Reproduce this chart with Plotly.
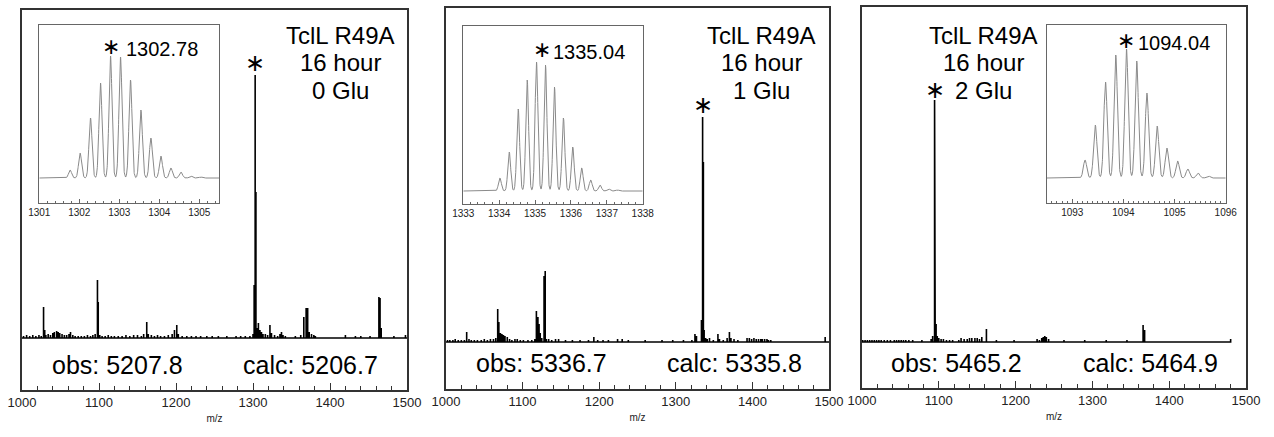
import numpy as np
import plotly.graph_objects as go

W, H = 1274, 437

# ---------------- data ----------------
# Panel 1 : 0 Glu  (stick spectrum, m/z and relative intensity)
p1_mz = [1002, 1006, 1010, 1014, 1018, 1022, 1025, 1028, 1029.5, 1031, 1034, 1037, 1040, 1042, 1045, 1047,
         1049, 1052, 1055, 1058, 1061, 1063, 1066, 1069, 1073, 1077, 1081, 1085, 1089, 1092, 1095, 1098,
         1099, 1101, 1104, 1108, 1112, 1116, 1120, 1125, 1130, 1135, 1140, 1145, 1150, 1155, 1158, 1162,
         1164, 1168, 1172, 1176, 1180, 1185, 1190, 1195, 1198, 1201, 1203, 1208, 1214, 1220, 1226, 1232,
         1240, 1247, 1255, 1266, 1278, 1284, 1290, 1296, 1300, 1301.5, 1302.8, 1303.8, 1305, 1307, 1309,
         1311, 1313, 1316, 1319, 1322, 1324, 1328, 1332, 1335, 1337, 1339, 1342, 1355, 1362, 1366, 1369,
         1371, 1373, 1376, 1379, 1381, 1420, 1433, 1440, 1452, 1463.5, 1465, 1466.5, 1483, 1498]
p1_int = [2, 3, 2, 3, 2, 3, 2, 31, 8, 3, 4, 3, 5, 6, 7, 6,
          5, 4, 3, 3, 4, 6, 3, 2, 2, 2, 2, 3, 2, 3, 4, 58,
          36, 3, 2, 2, 3, 2, 2, 2, 2, 3, 2, 3, 3, 2, 4, 16,
          4, 3, 2, 3, 2, 2, 3, 4, 8, 13, 4, 2, 2, 2, 2, 2,
          2, 2, 2, 2, 2, 2, 2, 2, 4, 53, 263, 146, 10, 15, 8,
          6, 4, 4, 3, 13, 5, 3, 2, 4, 6, 3, 2, 2, 3, 21, 30,
          30, 6, 4, 3, 2, 3, 2, 2, 2, 41, 40, 10, 2, 3]

# Panel 2 : 1 Glu
p2_mz = [1002, 1005, 1009, 1012, 1016, 1020, 1024, 1027, 1030, 1033, 1037, 1041, 1046, 1050, 1054, 1058,
         1062, 1065, 1067.5, 1069, 1071, 1073, 1075, 1077, 1080, 1083, 1086, 1090, 1093, 1097, 1101, 1107,
         1112, 1116, 1118, 1120, 1121.5, 1123, 1125, 1128, 1129.5, 1131, 1134, 1138, 1143, 1147, 1156, 1165,
         1175, 1186, 1193, 1198, 1205, 1212, 1224, 1230, 1238, 1260, 1282, 1296, 1310, 1321, 1325, 1327,
         1333.5, 1335, 1336, 1337, 1339, 1341, 1344, 1349, 1355, 1357, 1362, 1367, 1370, 1372, 1376, 1381,
         1393, 1396, 1399, 1402, 1405, 1408, 1411, 1413, 1416, 1419, 1421, 1424, 1495]
p2_int = [2, 2, 2, 3, 2, 2, 2, 10, 3, 2, 2, 2, 2, 3, 2, 3,
          3, 4, 33, 20, 9, 8, 7, 6, 5, 3, 2, 3, 3, 2, 2, 2,
          2, 3, 31, 25, 18, 9, 4, 66, 71, 3, 3, 2, 3, 3, 2, 2,
          2, 2, 5, 2, 2, 2, 3, 3, 2, 2, 2, 2, 2, 2, 8, 6,
          22, 225, 180, 12, 4, 3, 4, 2, 8, 3, 2, 4, 10, 4, 3, 2,
          4, 4, 3, 4, 3, 3, 3, 3, 3, 3, 2, 2, 5]

# Panel 3 : 2 Glu
p3_mz = [1001, 1004, 1007, 1010, 1013, 1016, 1019, 1022, 1025, 1029, 1033, 1037, 1042, 1045, 1048, 1051,
         1054, 1057, 1061, 1066, 1078, 1090, 1092, 1094.5, 1095.3, 1096.5, 1098, 1100, 1103, 1106, 1110,
         1114, 1118, 1126, 1129, 1133, 1137, 1140, 1143, 1147, 1150, 1153, 1156, 1162, 1175, 1198, 1228,
         1231, 1234, 1236, 1238, 1240, 1243, 1263, 1290, 1318, 1345, 1366, 1368, 1480]
p3_int = [2, 2, 2, 2, 2, 2, 2, 2, 2, 2, 2, 2, 2, 2, 2, 2,
          2, 2, 2, 2, 2, 3, 6, 242, 182, 18, 6, 4, 3, 3, 2,
          2, 2, 2, 4, 3, 3, 4, 4, 4, 4, 3, 5, 13, 2, 2, 3,
          2, 4, 5, 6, 5, 3, 2, 2, 2, 2, 17, 12, 3]

baseline_ranges = [[1000, 1500], [1000, 1500], [1000, 1481]]

# Isotope envelopes (insets): centroid m/z and height
iso1_mz = [1301.77, 1302.02, 1302.28, 1302.53, 1302.78, 1303.03, 1303.28, 1303.54, 1303.79, 1304.04,
           1304.29, 1304.54, 1304.79, 1305.04]
iso1_int = [8, 25, 60, 95, 122, 121, 98, 68, 40, 22, 10, 6, 2, 1]
iso2_mz = [1334.02, 1334.28, 1334.53, 1334.78, 1335.04, 1335.29, 1335.54, 1335.79, 1336.05, 1336.30,
           1336.55, 1336.81, 1337.05, 1337.30]
iso2_int = [13, 39, 82, 111, 129, 126, 104, 73, 44, 23, 11, 6, 2, 1]
iso3_mz = [1093.25, 1093.45, 1093.65, 1093.85, 1094.06, 1094.26, 1094.46, 1094.66, 1094.85, 1095.06,
           1095.26, 1095.46, 1095.66]
iso3_int = [18, 53, 96, 123, 129, 117, 85, 52, 30, 17, 9, 5, 2]

inset_ranges = [[1301, 1305.5], [1333, 1338], [1092.5, 1096]]
inset_minor = [0.2, 0.2, 0.1]
peak_sigma = [0.038, 0.04, 0.033]

main_peak = [1302.8, 1335.0, 1094.5]
labels_iso = ["1302.78", "1335.04", "1094.04"]
glu_labels = ["0 Glu", "1 Glu", "2 Glu"]
obs_labels = ["obs: 5207.8", "obs: 5336.7", "obs: 5465.2"]
calc_labels = ["calc: 5206.7", "calc: 5335.8", "calc: 5464.9"]

# ---------------- layout geometry (pixels) ----------------
main_box = [(22, 407, 10, 390, 338), (446, 829, 8, 389, 342), (862, 1246, 7, 388, 342)]
inset_box = [(39.3, 219.3, 25, 203, 178), (463.3, 642.7, 26, 204, 191), (1046.7, 1225.7, 25, 203, 178)]

def px(x):
    return x / W

def py(y):
    return 1 - y / H

FONT = "Liberation Sans, Arial, sans-serif"
fig = go.Figure()

spectra = [(p1_mz, p1_int), (p2_mz, p2_int), (p3_mz, p3_int)]
isos = [(iso1_mz, iso1_int), (iso2_mz, iso2_int), (iso3_mz, iso3_int)]

layout = {}
annotations = []
for i in range(3):
    mi = i + 1
    ii = i + 4
    mz, inten = spectra[i]
    order = np.argsort(mz)
    xs = [baseline_ranges[i][0]]
    ys = [0]
    for k in order:
        xs += [mz[k], mz[k], mz[k]]
        ys += [0, inten[k], 0]
    xs.append(baseline_ranges[i][1])
    ys.append(0)
    fig.add_trace(go.Scatter(x=xs, y=ys, mode="lines", line=dict(color="black", width=1.6),
                             xaxis=f"x{mi}", yaxis=f"y{mi}", showlegend=False, hoverinfo="skip"))

    # inset profile
    imz, iint = isos[i]
    grid = np.linspace(inset_ranges[i][0], inset_ranges[i][1], 1500)
    prof = np.zeros_like(grid)
    for c, h in zip(imz, iint):
        prof += h * np.exp(-0.5 * ((grid - c) / peak_sigma[i]) ** 2)
    fig.add_trace(go.Scatter(x=grid, y=prof, mode="lines", line=dict(color="#8a8a8a", width=1),
                             xaxis=f"x{ii}", yaxis=f"y{ii}", showlegend=False, hoverinfo="skip"))

    l, r, t, b, base = main_box[i]
    ymin = -(b - base)
    ymax = base - t
    layout[f"xaxis{mi}"] = dict(
        domain=[px(l), px(r)], anchor=f"y{mi}", range=[1000, 1500], automargin=False,
        showline=True, linecolor="#333", linewidth=1.5, mirror=True,
        ticks="inside", ticklen=7, tickwidth=1, tickcolor="#333",
        tick0=1000, dtick=100,
        minor=dict(dtick=20, ticklen=4, ticks="inside", tickcolor="#333", tickwidth=1),
        tickfont=dict(family=FONT, size=13, color="#222"),
        title=dict(text="m/z", font=dict(family=FONT, size=10, color="#222"), standoff=6),
        showgrid=False, zeroline=False)
    layout[f"yaxis{mi}"] = dict(
        domain=[py(b), py(t)], anchor=f"x{mi}", range=[ymin, ymax], automargin=False,
        showline=True, linecolor="#333", linewidth=1.5, mirror=True,
        showticklabels=False, ticks="", showgrid=False, zeroline=False)

    l, r, t, b, base = inset_box[i]
    ymin = -(b - base)
    ymax = base - t
    layout[f"xaxis{ii}"] = dict(
        domain=[px(l), px(r)], anchor=f"y{ii}", range=inset_ranges[i], automargin=False,
        showline=True, linecolor="#666", linewidth=1, mirror=True,
        ticks="inside", ticklen=4, tickwidth=1, tickcolor="#666", dtick=1,
        minor=dict(dtick=inset_minor[i], ticklen=2, ticks="inside", tickcolor="#666", tickwidth=1),
        tickfont=dict(family=FONT, size=10, color="#222"),
        showgrid=False, zeroline=False)
    layout[f"yaxis{ii}"] = dict(
        domain=[py(b), py(t)], anchor=f"x{ii}", range=[ymin, ymax], automargin=False,
        showline=True, linecolor="#666", linewidth=1, mirror=True,
        showticklabels=False, ticks="", showgrid=False, zeroline=False)

# title lines
title_cx = [341, 761, 984]
title_lines_y = [36, 63, 90]
for i in range(3):
    for txt, yy in zip(["TclL R49A", "16 hour", glu_labels[i]], title_lines_y):
        annotations.append(dict(text=txt, x=px(title_cx[i]), y=py(yy), xref="paper", yref="paper",
                                xanchor="center", yanchor="middle", showarrow=False,
                                font=dict(family=FONT, size=24, color="black")))

# obs / calc
obs_cx = [117, 541, 956]
calc_cx = [310, 735, 1150]
oc_y = [364.5, 363, 363]
for i in range(3):
    annotations.append(dict(text=obs_labels[i], x=px(obs_cx[i]), y=py(oc_y[i]), xref="paper", yref="paper",
                            xanchor="center", yanchor="middle", showarrow=False,
                            font=dict(family=FONT, size=25, color="black")))
    annotations.append(dict(text=calc_labels[i], x=px(calc_cx[i]), y=py(oc_y[i]), xref="paper", yref="paper",
                            xanchor="center", yanchor="middle", showarrow=False,
                            font=dict(family=FONT, size=25, color="black")))

# main-peak asterisks
main_ast_y = [63, 105, 90]
for i in range(3):
    annotations.append(dict(text="∗", x=main_peak[i], xref=f"x{i+1}", y=py(main_ast_y[i]), yref="paper",
                            xanchor="center", yanchor="middle", showarrow=False,
                            font=dict(family="DejaVu Sans", size=24, color="black")))

# inset labels
iso_ast_x = [111, 541.7, 1125.7]
iso_ast_y = [47, 50, 40]
iso_num_x = [124, 551, 1136]
iso_num_y = [48.5, 52, 43]
for i in range(3):
    annotations.append(dict(text="∗", x=px(iso_ast_x[i]), y=py(iso_ast_y[i]), xref="paper", yref="paper",
                            xanchor="center", yanchor="middle", showarrow=False,
                            font=dict(family="DejaVu Sans", size=22, color="black")))
    annotations.append(dict(text=labels_iso[i], x=px(iso_num_x[i]), y=py(iso_num_y[i]), xref="paper", yref="paper",
                            xanchor="left", yanchor="middle", showarrow=False,
                            font=dict(family=FONT, size=20, color="black")))

fig.update_layout(template="none", width=W, height=H, margin=dict(l=0, r=0, t=0, b=0, pad=0),
                  paper_bgcolor="white", plot_bgcolor="white", showlegend=False,
                  annotations=annotations, **layout)
fig.write_html("out.html")
